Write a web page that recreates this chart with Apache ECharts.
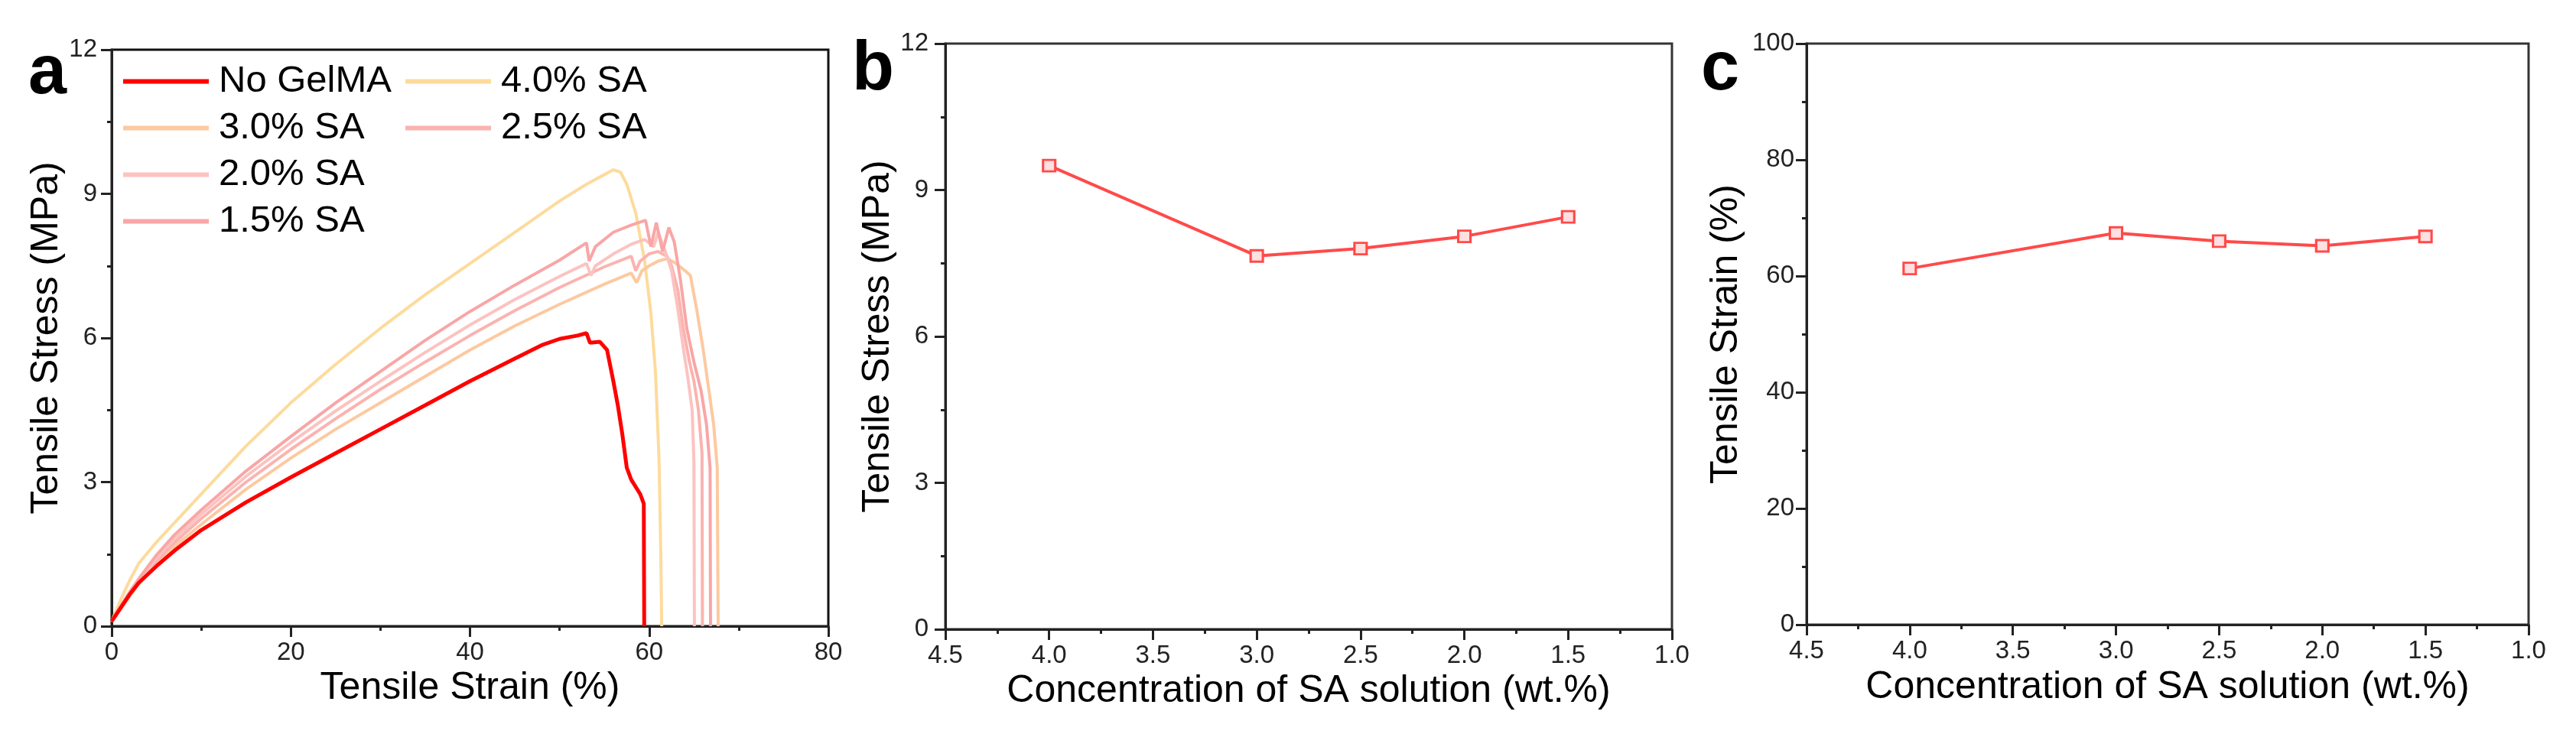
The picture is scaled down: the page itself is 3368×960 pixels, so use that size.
<!DOCTYPE html>
<html>
<head>
<meta charset="utf-8">
<script src="https://cdn.jsdelivr.net/npm/echarts@6/dist/echarts.min.js"></script>
<style>
html,body{margin:0;padding:0;background:#fff;}
#chart{width:3368px;height:960px;}
</style>
</head>
<body>
<div id="chart"></div>
<script>
// ---------- Panel a: stress-strain curves [strain %, stress MPa] ----------
const seriesNames = ['No GelMA', '4.0% SA', '3.0% SA', '2.5% SA', '2.0% SA', '1.5% SA'];
const seriesColors = ['#ff0000', '#fddb9c', '#fdc9a0', '#fbb3b0', '#fcc3c0', '#f9a6a6'];

const curveNoGelMA = [[0,0.1],[1,0.38],[2,0.66],[3,0.9],[5,1.25],[7,1.57],[10,2.0],[15,2.58],[20,3.1],[25,3.6],[30,4.1],[35,4.6],[40,5.1],[45,5.57],[48,5.85],[50,5.98],[52,6.05],[53,6.1],[53.4,5.9],[54.5,5.92],[55.3,5.75],[56,5.1],[56.5,4.6],[57,4.0],[57.5,3.3],[58,3.05],[59,2.75],[59.4,2.55],[59.45,0]];
const curveSA40 = [[0,0.1],[1,0.55],[2,0.95],[3,1.3],[5,1.75],[7,2.15],[10,2.75],[15,3.75],[20,4.65],[25,5.45],[30,6.2],[35,6.9],[40,7.55],[45,8.2],[50,8.85],[53,9.2],[55,9.4],[56,9.5],[56.8,9.45],[57.5,9.2],[58.5,8.6],[59.5,7.6],[60.2,6.5],[60.7,5.3],[61.1,3.5],[61.3,1.5],[61.4,0]];
const curveSA30 = [[0,0.1],[1,0.36],[2,0.62],[3,0.87],[5,1.3],[7,1.66],[10,2.12],[15,2.85],[20,3.5],[25,4.1],[30,4.65],[35,5.2],[40,5.75],[45,6.25],[50,6.7],[55,7.12],[58,7.35],[58.6,7.15],[59.2,7.4],[60,7.5],[61,7.6],[62,7.65],[63,7.55],[64,7.4],[64.6,7.3],[65.3,6.6],[66,5.8],[66.6,5.0],[67.2,4.2],[67.6,3.3],[67.7,0]];
const curveSA25 = [[0,0.1],[1,0.38],[2,0.65],[3,0.9],[5,1.36],[7,1.74],[10,2.24],[15,3.0],[20,3.68],[25,4.32],[30,4.93],[35,5.5],[40,6.05],[45,6.57],[50,7.05],[55,7.48],[58,7.7],[58.5,7.4],[59,7.6],[60,7.75],[61,7.8],[62,7.7],[62.5,7.5],[63.2,7.0],[63.8,6.2],[64.5,5.5],[65,5.1],[65.5,4.5],[65.9,3.6],[65.95,0]];
const curveSA20 = [[0,0.1],[1,0.4],[2,0.68],[3,0.94],[5,1.42],[7,1.82],[10,2.33],[15,3.12],[20,3.82],[25,4.48],[30,5.1],[35,5.7],[40,6.27],[45,6.8],[50,7.28],[53,7.55],[53.5,7.3],[54,7.5],[56,7.75],[58,7.95],[59.5,8.05],[60.5,7.9],[61,8.2],[61.8,7.8],[62.5,7.4],[63.2,6.6],[63.8,5.8],[64.3,5.2],[64.8,4.5],[65.0,3.4],[65.05,0]];
const curveSA15 = [[0,0.1],[1,0.42],[2,0.71],[3,0.98],[5,1.48],[7,1.9],[10,2.42],[15,3.23],[20,3.95],[25,4.65],[30,5.3],[35,5.95],[40,6.55],[45,7.1],[50,7.62],[53,7.98],[53.3,7.6],[54,7.9],[56,8.2],[58,8.35],[59.6,8.45],[60.2,7.9],[60.8,8.4],[61.5,7.8],[62.2,8.3],[62.8,8.0],[63.5,7.2],[64.2,6.2],[65,5.5],[65.8,4.9],[66.4,4.2],[66.8,3.3],[66.85,0]];
const curves = [curveNoGelMA, curveSA40, curveSA30, curveSA25, curveSA20, curveSA15];

// ---------- Panels b & c ----------
const concentration = [4.0, 3.0, 2.5, 2.0, 1.5];
const tensileStress = [9.5, 7.65, 7.8, 8.05, 8.45];
const tensileStrain = [61.3, 67.4, 66.0, 65.2, 66.8];

const FONT = 'Liberation Sans, Arial, sans-serif';
const chart = echarts.init(document.getElementById('chart'));

function xAx(gridIndex, opt) {
  return Object.assign({
    type: 'value', gridIndex: gridIndex,
    nameLocation: 'middle',
    nameTextStyle: {fontSize: 50, color: '#000', fontFamily: FONT},
    axisLine: {show: true, onZero: false, lineStyle: {color: '#222', width: 3}},
    axisTick: {show: true, length: 14, lineStyle: {color: '#222', width: 3}},
    minorTick: {show: true, splitNumber: 2, length: 6, lineStyle: {color: '#222', width: 3}},
    axisLabel: {fontSize: 33, color: '#222', fontFamily: FONT, margin: 18},
    splitLine: {show: false}
  }, opt);
}
function yAx(gridIndex, opt) {
  return Object.assign({
    type: 'value', gridIndex: gridIndex,
    nameLocation: 'middle', nameRotate: 90,
    nameTextStyle: {fontSize: 50, color: '#000', fontFamily: FONT},
    axisLine: {show: true, onZero: false, lineStyle: {color: '#222', width: 3}},
    axisTick: {show: true, length: 14, lineStyle: {color: '#222', width: 3}},
    minorTick: {show: true, splitNumber: 2, length: 6, lineStyle: {color: '#222', width: 3}},
    axisLabel: {fontSize: 33, color: '#222', fontFamily: FONT, margin: 19},
    splitLine: {show: false}
  }, opt);
}

const series = [];
curves.forEach(function (c, i) {
  series.push({
    name: seriesNames[i], type: 'line', xAxisIndex: 0, yAxisIndex: 0,
    data: c, showSymbol: false, symbol: 'none', smooth: false,
    color: seriesColors[i],
    lineStyle: {color: seriesColors[i], width: i === 0 ? 5 : 4},
    z: i === 0 ? 3 : 2
  });
});
const pointStyle = {
  type: 'line', showSymbol: true, symbol: 'rect', symbolSize: [16, 15],
  color: '#ff4a4a',
  lineStyle: {color: '#ff4a4a', width: 4},
  itemStyle: {color: '#ffe0e0', borderColor: '#ff4a4a', borderWidth: 3}
};
series.push(Object.assign({}, pointStyle, {
  name: 'stress', xAxisIndex: 1, yAxisIndex: 1,
  data: concentration.map(function (x, i) { return [x, tensileStress[i]]; })
}));
series.push(Object.assign({}, pointStyle, {
  name: 'strain', xAxisIndex: 2, yAxisIndex: 2,
  data: concentration.map(function (x, i) { return [x, tensileStrain[i]]; })
}));

const legendCommon = {
  orient: 'vertical', top: 77, itemWidth: 112, itemHeight: 6, itemGap: 12,
  icon: 'rect', selectedMode: false,
  textStyle: {fontSize: 49, lineHeight: 49, color: '#000', fontFamily: FONT, padding: [0, 0, 0, 8]}
};

const option = {
  backgroundColor: '#fff',
  animation: false,
  grid: [
    {left: 146, top: 65, width: 937, height: 754, show: true, borderColor: '#111', borderWidth: 3, backgroundColor: 'transparent'},
    {left: 1236, top: 57, width: 950, height: 766, show: true, borderColor: '#333', borderWidth: 3, backgroundColor: 'transparent'},
    {left: 2362, top: 57, width: 944, height: 760, show: true, borderColor: '#333', borderWidth: 3, backgroundColor: 'transparent'}
  ],
  xAxis: [
    xAx(0, {min: 0, max: 80, interval: 20, name: 'Tensile Strain (%)', nameGap: 55}),
    xAx(1, {min: 1.0, max: 4.5, interval: 0.5, inverse: true, name: 'Concentration of SA solution (wt.%)', nameGap: 51,
      axisLabel: {fontSize: 33, color: '#222', fontFamily: FONT, margin: 18, formatter: function (v) { return v.toFixed(1); }}}),
    xAx(2, {min: 1.0, max: 4.5, interval: 0.5, inverse: true, name: 'Concentration of SA solution (wt.%)', nameGap: 57,
      axisLabel: {fontSize: 33, color: '#222', fontFamily: FONT, margin: 18, formatter: function (v) { return v.toFixed(1); }}})
  ],
  yAxis: [
    yAx(0, {min: 0, max: 12, interval: 3, name: 'Tensile Stress (MPa)', nameGap: 58}),
    yAx(1, {min: 0, max: 12, interval: 3, name: 'Tensile Stress (MPa)', nameGap: 59,
      axisLabel: {fontSize: 33, color: '#222', fontFamily: FONT, margin: 22}}),
    yAx(2, {min: 0, max: 100, interval: 20, name: 'Tensile Strain (%)', nameGap: 80,
      axisLabel: {fontSize: 33, color: '#222', fontFamily: FONT, margin: 16}})
  ],
  legend: [
    Object.assign({}, legendCommon, {left: 156, data: ['No GelMA', '3.0% SA', '2.0% SA', '1.5% SA']}),
    Object.assign({}, legendCommon, {left: 525, data: ['4.0% SA', '2.5% SA']})
  ],
  graphic: [
    {type: 'text', left: 37, top: 52, style: {text: 'a', fontSize: 90, fontWeight: 'bold', fontFamily: FONT, fill: '#000'}},
    {type: 'text', left: 1114, top: 47, style: {text: 'b', fontSize: 90, fontWeight: 'bold', fontFamily: FONT, fill: '#000'}},
    {type: 'text', left: 2224, top: 47, style: {text: 'c', fontSize: 90, fontWeight: 'bold', fontFamily: FONT, fill: '#000'}}
  ],
  series: series
};
chart.setOption(option);
</script>
</body>
</html>
